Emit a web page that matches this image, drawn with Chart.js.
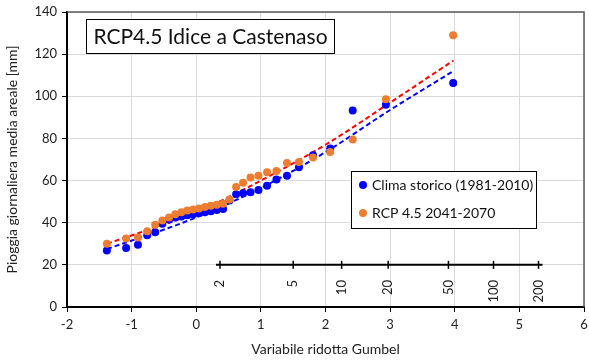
<!DOCTYPE html>
<html>
<head>
<meta charset="utf-8">
<script src="https://cdn.jsdelivr.net/npm/chart.js@4/dist/chart.umd.min.js"></script>
<style>
  html, body { margin: 0; padding: 0; background: #fff; }
  #wrap { width: 589px; height: 362px; position: relative; }
</style>
</head>
<body>
<div id="wrap"><canvas id="gumbelChart"></canvas></div>
<script>
// Gumbel reduced variate of the 30 ranked annual maxima
const reducedVariate = [-1.383, -1.085, -0.902, -0.759, -0.635, -0.524, -0.421, -0.324, -0.230, -0.138,
                        -0.047, 0.043, 0.134, 0.226, 0.319, 0.415, 0.514, 0.617, 0.725, 0.840,
                        0.963, 1.096, 1.241, 1.404, 1.589, 1.807, 2.073, 2.421, 2.934, 3.976];

// ranked daily areal rainfall [mm]
const historicRain = [26.8, 28, 29.5, 34, 35.5, 39.5, 41.5, 42.5, 43, 43.5,
                      44, 44.5, 45, 45.5, 46, 46.5, 50.5, 53.5, 54, 54.5,
                      55.5, 57.5, 60.5, 62.3, 66.3, 72, 75.2, 93.3, 96, 106.3];
const rcp45Rain = [30, 32.5, 33, 36, 39, 41, 42.5, 44, 45, 45.8,
                   46.3, 46.8, 47.4, 48, 48.5, 49, 51, 57, 59, 61.5,
                   62.3, 64, 64.5, 68.3, 68.8, 71, 73.6, 79.5, 98.6, 129];

// fitted distribution curves
const fitX = [-1.38, 0, 1, 2, 3, 3.98];
const historicFit = [27.5, 42.5, 56.5, 73.5, 93.5, 112];
const rcp45Fit = [30, 45, 60, 77, 97, 117];

// return period axis (years) placed on the reduced variate scale
const returnPeriods = ['2', '5', '10', '20', '50', '100', '200'];
const returnPeriodX = [0.367, 1.500, 2.250, 2.970, 3.902, 4.600, 5.296];
const returnAxisLevel = 20;

const seriesLabels = ['Clima storico (1981-2010)', 'RCP 4.5 2041-2070'];
const chartTitle = 'RCP4.5 Idice a Castenaso';

const BLUE = '#0000ff';
const ORANGE = '#ed7d31';
const RED = '#ff0000';
const FONT = 'Lato, "Liberation Sans", sans-serif';

const toPoints = (xs, ys) => xs.map((v, i) => ({ x: v, y: ys[i] }));

//extra drawing: frame, return period axis, title box and legend
const extrasPlugin = {
    id: 'extras',
    beforeDatasetsDraw(chart) {
        const { ctx, chartArea: a, scales: { x, y } } = chart;
        ctx.save();
        ctx.strokeStyle = '#595959';
        ctx.lineWidth = 1.5;
        ctx.beginPath();
        ctx.moveTo(a.left, a.top);
        ctx.lineTo(a.right, a.top);
        ctx.lineTo(a.right, a.bottom);
        ctx.stroke();

        const py = y.getPixelForValue(returnAxisLevel);
        const xs = returnPeriodX.map(v => x.getPixelForValue(v));
        ctx.strokeStyle = '#000';
        ctx.lineWidth = 2;
        ctx.beginPath();
        ctx.moveTo(xs[0] - 4, py);
        ctx.lineTo(xs[xs.length - 1] + 4, py);
        ctx.stroke();
        ctx.lineWidth = 1.5;
        xs.forEach(px => {
            ctx.beginPath();
            ctx.moveTo(px, py - 4);
            ctx.lineTo(px, py + 4);
            ctx.stroke();
        });
        ctx.fillStyle = '#222';
        ctx.font = '13px ' + FONT;
        ctx.textAlign = 'right';
        ctx.textBaseline = 'middle';
        xs.forEach((px, i) => {
            ctx.save();
            ctx.translate(px, py + 15);
            ctx.rotate(-Math.PI / 2);
            ctx.fillText(returnPeriods[i], 0, 0);
            ctx.restore();
        });
        ctx.restore();
    },
    afterDatasetsDraw(chart) {
        const { ctx } = chart;
        ctx.save();
        //title box
        ctx.fillStyle = '#fff';
        ctx.fillRect(86.5, 19.5, 248, 34);
        ctx.strokeStyle = '#000';
        ctx.lineWidth = 1;
        ctx.strokeRect(86.5, 19.5, 248, 34);
        ctx.fillStyle = '#111';
        ctx.font = '21px ' + FONT;
        ctx.textAlign = 'center';
        ctx.textBaseline = 'middle';
        ctx.fillText(chartTitle, 210.5, 37);

        //legend box
        ctx.fillStyle = '#fff';
        ctx.fillRect(351.5, 171.5, 185, 57);
        ctx.strokeRect(351.5, 171.5, 185, 57);
        const rows = [185, 213];
        const colors = [BLUE, ORANGE];
        ctx.font = '14px ' + FONT;
        ctx.textAlign = 'left';
        rows.forEach((ry, i) => {
            ctx.fillStyle = colors[i];
            ctx.beginPath();
            ctx.arc(363, ry, 4, 0, Math.PI * 2);
            ctx.fill();
            ctx.fillStyle = '#111';
            ctx.fillText(seriesLabels[i], 372, ry);
        });
        ctx.restore();
    }
};

const ctx = document.getElementById('gumbelChart');
new Chart(ctx, {
    type: 'scatter',
    data: {
        datasets: [
            {
                label: seriesLabels[1],
                data: toPoints(reducedVariate, rcp45Rain),
                backgroundColor: ORANGE,
                borderWidth: 0,
                pointRadius: 4
            },
            {
                label: seriesLabels[0],
                data: toPoints(reducedVariate, historicRain),
                backgroundColor: BLUE,
                borderWidth: 0,
                pointRadius: 4
            },
            {
                type: 'line',
                data: toPoints(fitX, rcp45Fit),
                borderColor: RED,
                borderWidth: 2,
                borderDash: [5, 3],
                pointRadius: 0,
                fill: false,
                cubicInterpolationMode: 'monotone'
            },
            {
                type: 'line',
                data: toPoints(fitX, historicFit),
                borderColor: BLUE,
                borderWidth: 2,
                borderDash: [5, 3],
                pointRadius: 0,
                fill: false,
                cubicInterpolationMode: 'monotone'
            }
        ]
    },
    options: {
        responsive: true,
        maintainAspectRatio: false,
        animation: false,
        layout: { padding: { left: 0, right: 5, top: 12, bottom: 0 } },
        scales: {
            x: {
                type: 'linear',
                min: -2,
                max: 6,
                afterFit: s => { s.height = 55; s.paddingLeft = 0; s.paddingRight = 0; },
                ticks: { stepSize: 1, color: '#222', padding: 5, font: { family: FONT, size: 13 } },
                grid: { color: '#d9d9d9', tickColor: '#000', tickLength: 5 },
                border: { color: '#000', width: 2 },
                title: {
                    display: true,
                    text: 'Variabile ridotta Gumbel',
                    color: '#222',
                    font: { family: FONT, size: 14 },
                    padding: { top: 2, bottom: 4 }
                }
            },
            y: {
                min: 0,
                max: 140,
                afterFit: s => { s.width = 67; s.paddingTop = 0; s.paddingBottom = 0; },
                ticks: { stepSize: 20, color: '#222', padding: 5, font: { family: FONT, size: 13 } },
                grid: { color: '#d9d9d9', tickColor: '#000', tickLength: 5 },
                border: { color: '#000', width: 2 },
                title: {
                    display: true,
                    text: 'Pioggia giornaliera media areale [mm]',
                    color: '#222',
                    font: { family: FONT, size: 14 },
                    padding: { top: 4, bottom: 2 }
                }
            }
        },
        plugins: {
            legend: { display: false },
            tooltip: { enabled: false }
        }
    },
    plugins: [extrasPlugin]
});
</script>
</body>
</html>
